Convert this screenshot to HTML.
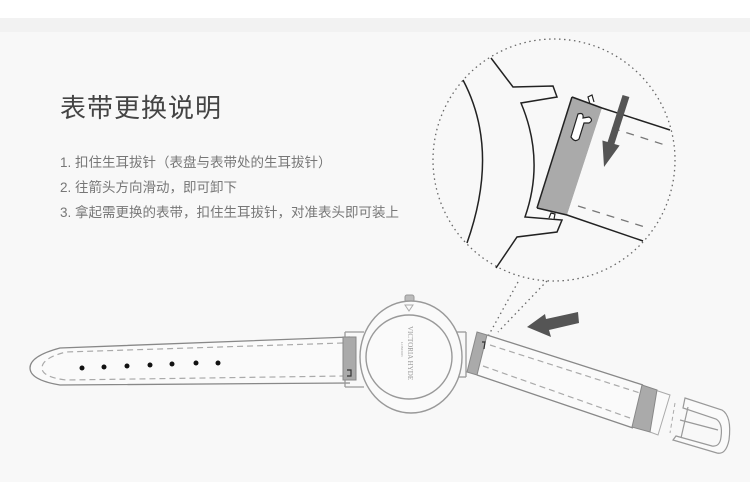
<!DOCTYPE html>
<html><head><meta charset="utf-8"><style>
html,body{margin:0;padding:0}
body{width:750px;height:482px;position:relative;overflow:hidden;background:#f8f8f8;font-family:"Liberation Sans","Noto Sans CJK SC",sans-serif}
.top{position:absolute;left:0;top:0;width:750px;height:18px;background:#fff}
.band{position:absolute;left:0;top:18px;width:750px;height:14px;background:#f2f2f2}
h1{position:absolute;left:60px;top:88px;margin:0;font-size:26px;font-weight:normal;color:#444;letter-spacing:1px;font-family:"Liberation Sans","Noto Sans CJK SC",sans-serif}
.l{position:absolute;left:60px;font-size:13.5px;color:#777;white-space:nowrap}
svg{position:absolute;left:0;top:0}
</style></head><body>
<div class="top"></div><div class="band"></div>
<h1>表带更换说明</h1>
<div class="l" style="top:151px">1. 扣住生耳拔针（表盘与表带处的生耳拔针）</div>
<div class="l" style="top:176px">2. 往箭头方向滑动，即可卸下</div>
<div class="l" style="top:201px">3. 拿起需更换的表带，扣住生耳拔针，对准表头即可装上</div>
<svg width="750" height="482" viewBox="0 0 750 482">
<circle cx="554" cy="160" r="121" fill="none" stroke="#666" stroke-width="1.3" stroke-dasharray="1.5 3.5"/>
<line x1="518" y1="282" x2="486" y2="340" stroke="#666" stroke-width="1.3" stroke-dasharray="1.5 3.5"/>
<line x1="547" y1="281" x2="498" y2="332" stroke="#666" stroke-width="1.3" stroke-dasharray="1.5 3.5"/>
<g fill="none" stroke="#222" stroke-width="1.5">
<path d="M463 80 Q500 150 467 243"/>
<path d="M491 58 L513 87 L553 86 L557 97 L521 103 Q545 160 525 217 L562 220 L557 232 L517 237 L496 268"/>
</g>
<path d="M590 104 L588 97 L592 95 L594 102" fill="#fff" stroke="#222" stroke-width="1.2"/>
<path d="M549 218 L551 213 L555 214 L554 219" fill="#fff" stroke="#222" stroke-width="1.2"/>
<polygon points="572,97 602,108 567,215 537,208" fill="#aaa"/>
<polygon points="602,108 670,130 643,241 567,215" fill="#f8f8f8"/>
<polyline points="572,97 602,108 670,130" fill="none" stroke="#222" stroke-width="1.5"/>
<polyline points="537,208 567,215 643,241" fill="none" stroke="#222" stroke-width="1.5"/>
<line x1="572" y1="97" x2="537" y2="208" stroke="#222" stroke-width="1.5"/>
<line x1="612" y1="128" x2="665" y2="145" stroke="#777" stroke-width="1.3" stroke-dasharray="8 7"/>
<line x1="578" y1="206" x2="645" y2="227" stroke="#777" stroke-width="1.3" stroke-dasharray="8 7"/>
<path d="M578 114 Q584 112 583 118 L589 117 Q594 120 589 123 L584 123 L579 139 Q575 143 571 137 Z" fill="#fff" stroke="#222" stroke-width="1.2"/>
<polygon points="622.6,95 629.4,97 614.4,144 619.6,145.5 604,167 602.4,140.5 607.6,142" fill="#555"/>
<path d="M350 337 L60 348 Q30 356 30 368 Q30 380 60 385 L350 383" fill="#fafafa" stroke="#888" stroke-width="1.3"/>
<path d="M343 343 L66 352 Q42 358 42 368 Q42 377 66 380 L343 376" fill="none" stroke="#aaa" stroke-width="1.2" stroke-dasharray="6 4"/>
<g fill="#111"><circle cx="82" cy="368" r="2.5"/><circle cx="104" cy="367" r="2.5"/><circle cx="127" cy="366" r="2.5"/><circle cx="150" cy="365" r="2.5"/><circle cx="172" cy="364" r="2.5"/><circle cx="196" cy="363" r="2.5"/><circle cx="218" cy="363" r="2.5"/></g>
<g fill="none" stroke="#999" stroke-width="1.3">
<line x1="345" y1="332" x2="364" y2="332"/><line x1="345" y1="387" x2="364" y2="387"/>
<line x1="456" y1="332" x2="466" y2="332"/><line x1="456" y1="377" x2="466" y2="377"/>
<line x1="345" y1="332" x2="345" y2="387"/><line x1="466" y1="332" x2="466" y2="377"/>
</g>
<rect x="405" y="295" width="9" height="7" rx="2" fill="#bbb" stroke="#999"/>
<ellipse cx="411" cy="357" rx="51" ry="56" fill="#fafafa" stroke="#999" stroke-width="1.4"/>
<ellipse cx="409" cy="357" rx="43" ry="42" fill="#fafafa" stroke="#999" stroke-width="1.4"/>
<path d="M405 305 L413 305 L409 311 Z" fill="none" stroke="#aaa"/>
<text transform="translate(408,326) rotate(90)" font-family="Liberation Serif,serif" font-size="7" fill="#999">VICTORIA HYDE</text>
<text transform="translate(401,342) rotate(90)" font-family="Liberation Serif,serif" font-size="3.5" fill="#999">LONDON</text>
<rect x="343" y="337" width="13" height="43" fill="#aaa" stroke="#888"/>
<path d="M347 370 L351 370 L351 376 L347 376" fill="none" stroke="#333" stroke-width="1.2"/>
<polygon points="487,335 670,395 658,435 477,375" fill="#fafafa"/>
<line x1="487" y1="335" x2="643" y2="385" stroke="#888" stroke-width="1.3"/>
<line x1="477" y1="375" x2="633" y2="428" stroke="#888" stroke-width="1.3"/>
<line x1="490" y1="345" x2="640" y2="393" stroke="#aaa" stroke-width="1.2" stroke-dasharray="6 4"/>
<line x1="483" y1="366" x2="630" y2="418" stroke="#aaa" stroke-width="1.2" stroke-dasharray="6 4"/>
<polygon points="477,332 487,335 477,375 467,372" fill="#aaa" stroke="#888"/>
<path d="M482 342 L485 342 L484 349" fill="none" stroke="#333" stroke-width="1.2"/>
<path d="M655 390 L670 395 L658 435 L650 432" fill="#fafafa" stroke="#aaa"/>
<line x1="675" y1="403" x2="670" y2="433" stroke="#aaa" stroke-dasharray="4 3"/>
<path d="M685 398 L722 410 Q732 416 729 440 Q726 455 717 453 L673 440 L676 436 L712 446 Q720 447 721 437 Q723 423 716 419 L683 408 Z" fill="#fafafa" stroke="#999" stroke-width="1.2"/>
<line x1="680" y1="420" x2="718" y2="430" stroke="#999" stroke-width="1.2"/>
<line x1="688" y1="407" x2="681" y2="438" stroke="#999" stroke-width="1.2"/>
<polygon points="642,385 657,390 650,432 632,427" fill="#aaa" stroke="#888"/>
<polygon points="527,327 545,314 546,319 578,312 579,323 549,330 551,337" fill="#555"/>
</svg>
</body></html>
